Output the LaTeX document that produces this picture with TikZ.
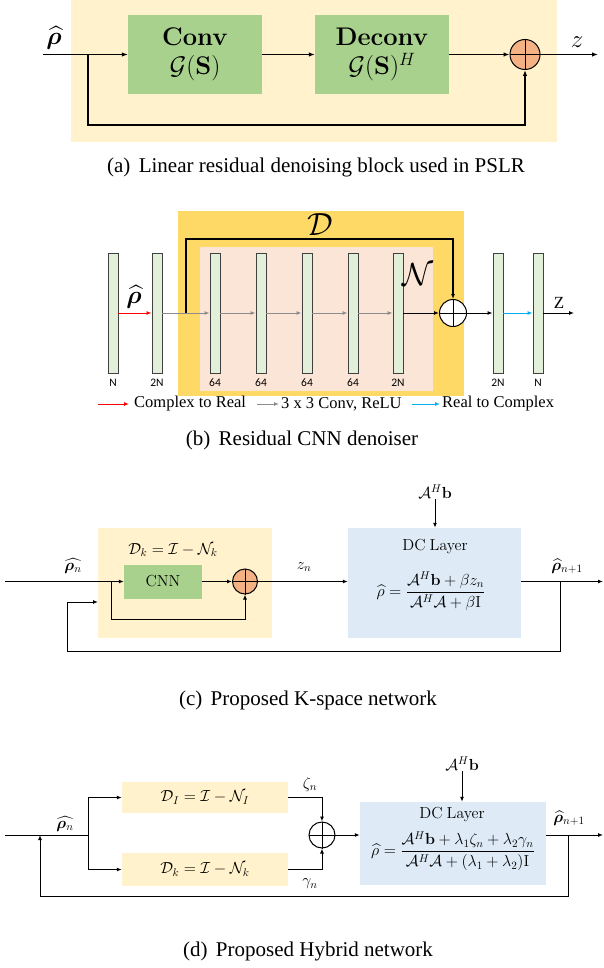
\RequirePackage{fix-cm}
\documentclass[tikz,border=0pt]{standalone}
\usepackage{amsmath,amssymb,bm}
\usepackage[no-math]{fontspec}
\setmainfont{Liberation Serif}
\newfontfamily\calib{Carlito}
\usetikzlibrary{arrows.meta,calc}
\definecolor{bgY}{HTML}{FFF2CC}
\definecolor{grn}{HTML}{A9D18E}
\definecolor{org}{HTML}{F4B183}
\definecolor{gold}{HTML}{FFD966}
\definecolor{pinkb}{HTML}{FBE5D6}
\definecolor{barf}{HTML}{E2F0D9}
\definecolor{barb}{HTML}{404040}
\definecolor{lblue}{HTML}{DEEBF7}
\definecolor{gry}{HTML}{8C8C8C}
\definecolor{cyn}{HTML}{00B0F0}
\begin{document}
\begin{tikzpicture}[x=1pt,y=-1pt,
  arr/.style={-{Latex[length=6pt,width=4.5pt]}, line width=1.1pt},
  sarr/.style={-{Latex[length=5pt,width=4pt]}, line width=1pt},
  gbox/.style={fill=grn, inner sep=0pt},
  sumnode/.style={circle, draw=black, line width=1pt, inner sep=0pt},
  layerbar/.style={rectangle, draw=barb, fill=barf, line width=0.9pt, minimum width=10pt, minimum height=120pt, inner sep=0pt},
  blab/.style={font=\calib\fontsize{11.5}{12}\selectfont, inner sep=0pt},
  captxt/.style={font=\fontsize{21}{24}\selectfont, inner sep=0pt},
  mth/.style={font=\fontsize{16}{19}\selectfont, inner sep=0pt},
  leg/.style={font=\fontsize{16.5}{19}\selectfont, inner sep=0pt, anchor=west},
]
\useasboundingbox (0,0) rectangle (603,968);

% ================= (a) =================
\fill[bgY] (71,0) rectangle (557,142);
\node[gbox, minimum width=134pt, minimum height=79pt, align=center,
      font=\fontsize{25.5}{30}\selectfont] (conv) at (195,54.5)
      {$\mathbf{Conv}$\\[-1pt]$\mathcal{G}(\mathbf{S})$};
\node[gbox, minimum width=134pt, minimum height=79pt, align=center,
      font=\fontsize{25.5}{30}\selectfont] (deconv) at (382,54.5)
      {$\mathbf{Deconv}$\\[-1pt]$\mathcal{G}(\mathbf{S})^H$};
\node[sumnode, fill=org, minimum size=30pt] (sumA) at (525,54.5) {};
\draw[line width=0.8pt] (sumA.north) -- (sumA.south) (sumA.west) -- (sumA.east);
\coordinate (inA) at (43,54.5);
\coordinate (brA) at (88,54.5);
\coordinate (fbA) at (88,125);
\coordinate (outA) at (598,54.5);
\draw[arr] (inA) -- (conv.west);
\draw[arr] (conv.east) -- (deconv.west);
\draw[arr] (deconv.east) -- (sumA.west);
\draw[arr] (sumA.east) -- (outA);
\draw[arr] (brA) -- (fbA) -| (sumA.south);
\node[font=\fontsize{25}{30}\selectfont, inner sep=0pt] (rhoA) at (54,38) {$\widehat{\bm{\rho}}$};
\node[font=\fontsize{25}{30}\selectfont, inner sep=0pt] (zA) at (577,42) {$z$};
\node[captxt] (capA) at (316,167) {(a)\hspace{0.4em}Linear residual denoising block used in PSLR};

% ================= (b) =================
\fill[gold] (178,211) rectangle (464,396);
\fill[pinkb] (200,247) rectangle (433,391);
\node[layerbar] (b1) at (113,313) {};
\node[layerbar] (b2) at (157,313) {};
\node[layerbar] (b3) at (215,313) {};
\node[layerbar] (b4) at (261,313) {};
\node[layerbar] (b5) at (307,313) {};
\node[layerbar] (b6) at (353,313) {};
\node[layerbar] (b7) at (398,313) {};
\node[layerbar] (b8) at (498,313) {};
\node[layerbar] (b9) at (538,313) {};
\node[blab] (l1) at (113,383) {N};
\node[blab] (l2) at (157,383) {2N};
\node[blab] (l3) at (215,383) {64};
\node[blab] (l4) at (261,383) {64};
\node[blab] (l5) at (307,383) {64};
\node[blab] (l6) at (353,383) {64};
\node[blab] (l7) at (398,383) {2N};
\node[blab] (l8) at (498,383) {2N};
\node[blab] (l9) at (538,383) {N};
\node[sumnode, fill=white, minimum size=27pt] (sumB) at (453,313) {};
\draw[line width=0.8pt] (sumB.north) -- (sumB.south) (sumB.west) -- (sumB.east);
\draw[sarr, red] (b1.east) -- (b2.west);
\draw[sarr, gry] (b2.east) -- (b3.west);
\draw[sarr, gry] (b3.east) -- (b4.west);
\draw[sarr, gry] (b4.east) -- (b5.west);
\draw[sarr, gry] (b5.east) -- (b6.west);
\draw[sarr, gry] (b6.east) -- (b7.west);
\draw[sarr] (b7.east) -- (sumB.west);
\draw[sarr] (sumB.east) -- (b8.west);
\draw[sarr, cyn] (b8.east) -- (b9.west);
\coordinate (outB) at (574,313);
\draw[sarr] (b9.east) -- (outB);
\coordinate (brB) at (186,313);
\coordinate (topB) at (186,239);
\draw[sarr, line width=1.2pt] (brB) -- (topB) -| (sumB.north);
\node[font=\fontsize{32}{36}\selectfont, inner sep=0pt] (Dlab) at (320,225) {$\mathcal{D}$};
\node[font=\fontsize{32}{36}\selectfont, inner sep=0pt] (Nlab) at (418,275) {$\mathcal{N}$};
\node[font=\fontsize{25}{30}\selectfont, inner sep=0pt] (rhoB) at (134,297) {$\widehat{\bm{\rho}}$};
\node[font=\fontsize{17}{20}\selectfont, inner sep=0pt] (zB) at (559,303) {Z};
% legend
\coordinate (lgA1) at (98,404); \coordinate (lgA2) at (129,404);
\coordinate (lgB1) at (257,404); \coordinate (lgB2) at (279,404);
\coordinate (lgC1) at (412,404); \coordinate (lgC2) at (440,404);
\draw[sarr, red] (lgA1) -- (lgA2);
\draw[sarr, gry] (lgB1) -- (lgB2);
\draw[sarr, cyn] (lgC1) -- (lgC2);
\node[leg] (tA) at (134,404) {Complex to Real};
\node[leg] (tB) at (281,404) {3 x 3 Conv, ReLU};
\node[leg] (tC) at (442,404) {Real to Complex};
\node[captxt] (capB) at (302,440) {(b)\hspace{0.4em}Residual CNN denoiser};

% ================= (c) =================
\fill[bgY] (98,528) rectangle (272,638);
\node[mth] (dkC) at (173,550) {$\mathcal{D}_k = \mathcal{I} - \mathcal{N}_k$};
\node[gbox, minimum width=78pt, minimum height=34pt, mth] (cnn) at (163,581.5) {$\mathrm{CNN}$};
\node[sumnode, fill=org, minimum size=25pt] (sumC) at (245,581.5) {};
\draw[line width=0.8pt] (sumC.north) -- (sumC.south) (sumC.west) -- (sumC.east);
\node[fill=lblue, minimum width=173pt, minimum height=110pt, inner sep=0pt] (dcC) at (434.5,583) {};
\node[mth] (dcCt) at (435,547) {$\mathrm{DC~Layer}$};
\node[mth] (dcCf) at (431,591) {$\widehat{\rho} = \dfrac{\mathcal{A}^H\mathbf{b} + \beta z_n}{\mathcal{A}^H\mathcal{A} + \beta\mathrm{I}}$};
\node[mth] (ahbC) at (435,492) {$\mathcal{A}^H\mathbf{b}$};
\draw[sarr] (ahbC.south) -- (ahbC.south |- dcC.north);
\coordinate (inC) at (5,581.5);
\coordinate (brC) at (111,581.5);
\coordinate (lpC) at (111,619);
\coordinate (outC) at (603,581.5);
\coordinate (brC2) at (560,581.5);
\coordinate (fbC1) at (67,651);
\coordinate (fbC) at (98,602);
\draw[sarr] (inC) -- (cnn.west);
\draw[sarr] (brC) -- (lpC) -| (sumC.south);
\draw[sarr] (cnn.east) -- (sumC.west);
\draw[sarr] (sumC.east) -- (sumC.east -| dcC.west);
\draw[sarr] (outC -| dcC.east) -- (outC);
\draw[sarr] (brC2) |- (fbC1) |- (fbC);
\node[mth] (rhoC) at (73,566) {$\widehat{\bm{\rho}_n}$};
\node[mth] (zC) at (304,567) {$z_n$};
\node[mth] (rho1C) at (567,566) {$\widehat{\bm{\rho}}_{n+1}$};
\node[captxt] (capC) at (308,700) {(c)\hspace{0.4em}Proposed K-space network};

% ================= (d) =================
\node[fill=bgY, minimum width=166pt, minimum height=31pt, inner sep=0pt, mth] (DI) at (205,797.5) {$\mathcal{D}_I = \mathcal{I} - \mathcal{N}_I$};
\node[fill=bgY, minimum width=166pt, minimum height=33pt, inner sep=0pt, mth] (Dk) at (205,869.5) {$\mathcal{D}_k = \mathcal{I} - \mathcal{N}_k$};
\node[sumnode, fill=white, minimum size=26pt] (sumD) at (322,835) {};
\draw[line width=0.8pt] (sumD.north) -- (sumD.south) (sumD.west) -- (sumD.east);
\node[fill=lblue, minimum width=186pt, minimum height=83pt, inner sep=0pt] (dcD) at (453,843.5) {};
\node[mth] (dcDt) at (452,815) {$\mathrm{DC~Layer}$};
\node[mth] (dcDf) at (453,851) {$\widehat{\rho} = \dfrac{\mathcal{A}^H\mathbf{b} + \lambda_1\zeta_n + \lambda_2\gamma_n}{\mathcal{A}^H\mathcal{A} + (\lambda_1+\lambda_2)\mathrm{I}}$};
\node[mth] (ahbD) at (462,764) {$\mathcal{A}^H\mathbf{b}$};
\draw[sarr] (ahbD.south) -- (ahbD.south |- dcD.north);
\coordinate (inD) at (5,835);
\coordinate (brD) at (88,835);
\coordinate (outD) at (603,835);
\coordinate (brD2) at (568,835);
\coordinate (fbD) at (40,896);
\draw[line width=1pt] (inD) -- (brD);
\draw[sarr] (brD) |- (DI.west);
\draw[sarr] (brD) |- (Dk.west);
\draw[sarr] (DI.east) -| (sumD.north);
\draw[sarr] (Dk.east) -| (sumD.south);
\draw[sarr] (sumD.east) -- (sumD.east -| dcD.west);
\draw[sarr] (outD -| dcD.east) -- (outD);
\draw[sarr] (brD2) |- (fbD) -- (fbD |- inD);
\node[mth] (zeta) at (310,784) {$\zeta_n$};
\node[mth] (gam) at (310,884) {$\gamma_n$};
\node[mth] (rhoD) at (65,824) {$\widehat{\bm{\rho}_n}$};
\node[mth] (rho1D) at (569,818) {$\widehat{\bm{\rho}}_{n+1}$};
\node[captxt] (capD) at (308,951) {(d)\hspace{0.4em}Proposed Hybrid network};
\end{tikzpicture}
\end{document}
